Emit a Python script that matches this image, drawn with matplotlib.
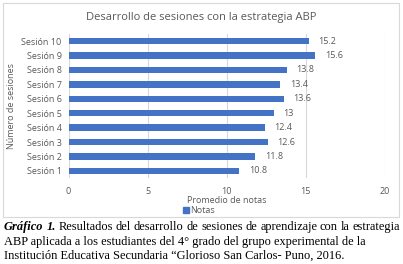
import matplotlib
matplotlib.use("Agg")
import matplotlib.pyplot as plt
from matplotlib.patches import Rectangle

sesiones = ["Sesión 1", "Sesión 2", "Sesión 3", "Sesión 4", "Sesión 5",
            "Sesión 6", "Sesión 7", "Sesión 8", "Sesión 9", "Sesión 10"]
notas = [10.8, 11.8, 12.6, 12.4, 13, 13.6, 13.4, 13.8, 15.6, 15.2]
xticks = [0, 5, 10, 15, 20]

blue = "#4472C4"
gray = "#595959"
font = "Open Sans"

fig = plt.figure(figsize=(4.03, 2.64), dpi=100)
ax = fig.add_axes([0.170, 0.325, 0.785, 0.547])

y = list(range(len(sesiones)))
ax.barh(y, notas, height=0.45, color=blue, zorder=3)
for yi, v in zip(y, notas):
    ax.text(v + 0.6, yi, f"{v:g}", va="center", ha="left", fontsize=6.5,
            color=gray, family=font)

ax.set_xlim(0, 20)
ax.set_ylim(-0.5, len(sesiones) - 0.5)
ax.set_xticks(xticks)
ax.set_xticklabels([str(t) for t in xticks], fontsize=6.5, color=gray, family=font)
ax.set_yticks(y)
ax.set_yticklabels(sesiones, fontsize=6.5, color=gray, family=font)
ax.tick_params(length=0, pad=5)
ax.tick_params(axis="x", pad=6)
ax.grid(axis="x", color="#d9d9d9", linewidth=0.8, zorder=0)
for s in ax.spines.values():
    s.set_visible(False)

ax.set_xlabel("Promedio de notas", fontsize=6.5, color=gray, family=font, labelpad=0)
ax.set_ylabel("Número de sesiones", fontsize=6.5, color=gray, family=font, labelpad=4)

fig.text(0.5, 0.935, "Desarrollo de sesiones con la estrategia ABP", ha="center",
         va="center", fontsize=8, color=gray, family=font)

# legend
fig.patches.append(Rectangle((183 / 403, 1 - 212.5 / 264), 6 / 403, 6 / 264,
                             transform=fig.transFigure, color=blue))
fig.text(190.5 / 403, 1 - 210.5 / 264, "Notas", ha="left", va="center",
         fontsize=6.5, color=gray, family=font)

# chart border
fig.patches.append(Rectangle((3 / 403, 1 - 216.5 / 264), 396 / 403, 213.5 / 264,
                             transform=fig.transFigure, fill=False,
                             edgecolor="#d9d9d9", linewidth=0.8))

# caption (first line justified to the full width)
serif = "Liberation Serif"
cap_size = 8.9
left_px, right_px = 4, 400
fig.canvas.draw()
renderer = fig.canvas.get_renderer()

words = [("Gráfico", True), ("1.", True)] + [
    (w, False) for w in
    "Resultados del desarrollo de sesiones de aprendizaje con la estrategia".split()]
texts = []
for w, bold in words:
    kw = dict(weight="bold", style="italic") if bold else {}
    t = fig.text(0, 1 - 227 / 264, w, ha="left", va="center",
                 fontsize=cap_size, family=serif, **kw)
    texts.append(t)
widths = [t.get_window_extent(renderer).width for t in texts]
gap = (right_px - left_px - sum(widths)) / (len(widths) - 1)
xpos = left_px
for t, w in zip(texts, widths):
    t.set_x(xpos / 403)
    xpos += w + gap

fig.text(left_px / 403, 1 - 241.5 / 264,
         "ABP aplicada a los estudiantes del 4° grado del grupo experimental de la",
         ha="left", va="center", fontsize=cap_size, family=serif)
fig.text(left_px / 403, 1 - 256 / 264,
         "Institución Educativa Secundaria “Glorioso San Carlos- Puno, 2016.",
         ha="left", va="center", fontsize=cap_size, family=serif)

fig.savefig("out.png", dpi=100)
